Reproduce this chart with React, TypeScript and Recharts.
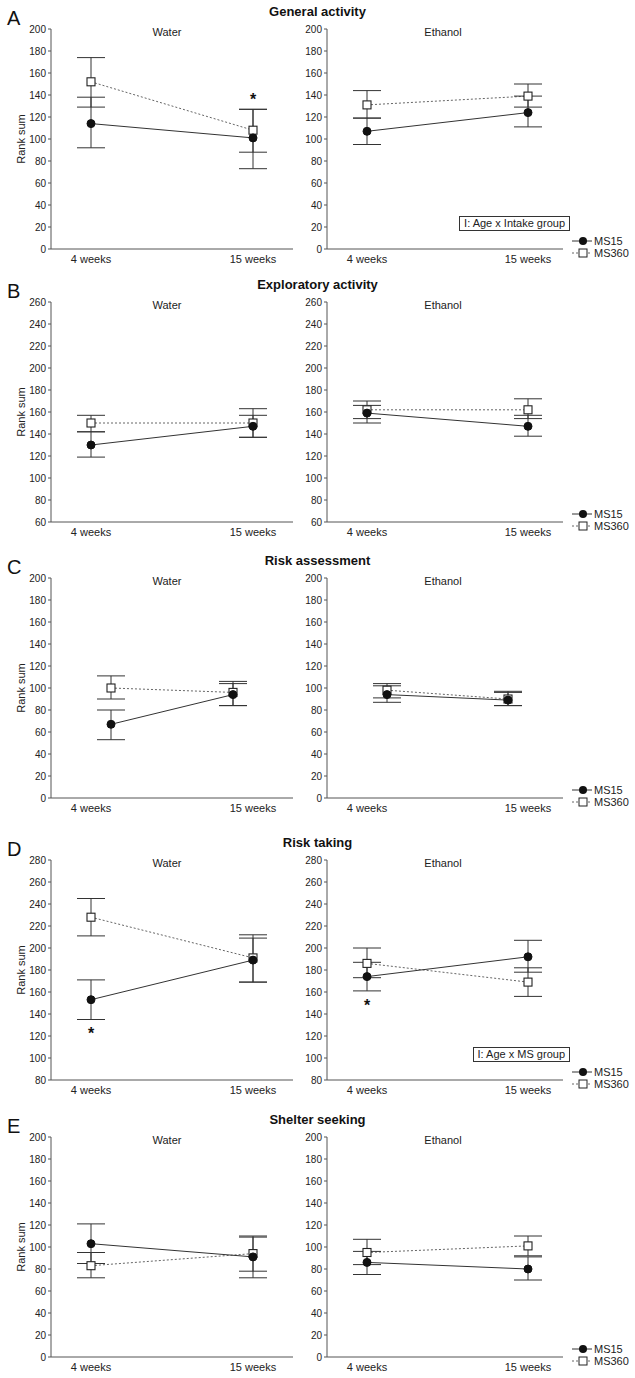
import React from 'react';
import { LineChart, Line, XAxis, YAxis, ErrorBar, Legend, ReferenceDot } from 'recharts';

const AGES = ['4 weeks', '15 weeks'];
const LETTERS = ['A', 'B', 'C', 'D', 'E'];
const TITLES = ['General activity', 'Exploratory activity', 'Risk assessment', 'Risk taking', 'Shelter seeking'];
const PANELS = ['Water', 'Ethanol'];
const Y_MIN = [0, 60, 0, 80, 0];
const Y_MAX = [200, 260, 200, 280, 200];
const Y_STEP = 20;

// rank sums per row, [4 weeks, 15 weeks]; LO / HI are the error bar ends
const MS15_WATER = [[114, 101], [130, 147], [67, 94], [153, 189], [103, 91]];
const MS15_WATER_LO = [[92, 73], [119, 137], [53, 84], [135, 169], [85, 72]];
const MS15_WATER_HI = [[138, 127], [142, 157], [80, 104], [171, 209], [121, 109]];
const MS360_WATER = [[152, 108], [150, 150], [100, 96], [228, 191], [83, 94]];
const MS360_WATER_LO = [[129, 88], [142, 137], [90, 84], [211, 169], [72, 78]];
const MS360_WATER_HI = [[174, 127], [157, 163], [111, 106], [245, 212], [95, 110]];

const MS15_ETHANOL = [[107, 124], [159, 147], [94, 89], [174, 192], [86, 80]];
const MS15_ETHANOL_LO = [[95, 111], [150, 138], [87, 84], [161, 178], [75, 70]];
const MS15_ETHANOL_HI = [[119, 139], [166, 157], [102, 96], [187, 207], [96, 91]];
const MS360_ETHANOL = [[131, 139], [162, 162], [98, 90], [186, 169], [95, 101]];
const MS360_ETHANOL_LO = [[119, 129], [154, 154], [91, 84], [173, 156], [84, 92]];
const MS360_ETHANOL_HI = [[144, 150], [170, 172], [104, 97], [200, 182], [107, 110]];

// significance stars: row, panel (0 water / 1 ethanol), age, rank-sum level
const STARS = [
  { row: 0, panel: 0, age: '15 weeks', y: 139 },
  { row: 3, panel: 0, age: '4 weeks', y: 126 },
  { row: 3, panel: 1, age: '4 weeks', y: 151 },
];
const NOTES = [
  { row: 0, text: 'I: Age x Intake group' },
  { row: 3, text: 'I: Age x MS group' },
];

const SERIES = [
  { key: 'ms15', name: 'MS15', stroke: '#333', dash: undefined as string | undefined, shape: 'circle' },
  { key: 'ms360', name: 'MS360', stroke: '#666', dash: '2 2', shape: 'square' },
];

// layout
const FONT = 'Arial, "Liberation Sans", sans-serif';
const PLOT_TOP = [29, 302, 578, 860, 1137];
const PLOT_H = 220;
const TOP_M = 5;
const X_AX_H = 20;
const POINT_INSET = [0, 0, 20, 0, 0];
const GEOM = [
  { left: 0, width: 300, right: 7, padL: 40, padR: 40, sub: 167 },
  { left: 276, width: 359, right: 72, padL: 40, padR: 35, sub: 443 },
];

const Circle = (p: any) =>
  p.cx == null ? null : <circle key={`c${p.index}`} cx={p.cx} cy={p.cy} r={4} fill="#111" stroke="#111" />;

const Square = (p: any) =>
  p.cx == null ? null : (
    <rect key={`s${p.index}`} x={p.cx - 4} y={p.cy - 4} width={8} height={8} fill="#fff" stroke="#222" strokeWidth={1.1} />
  );

const Star = (p: any) => (
  <text x={p.cx} y={p.cy} dy="0.58em" textAnchor="middle" fontSize={16} fontWeight="bold" fill="#111" fontFamily={FONT}>
    *
  </text>
);

const LegendBox = (props: any) => {
  const keys = (props.payload || []).map((d: any) => d.dataKey);
  return (
    <div style={{ fontFamily: FONT, fontSize: 11, color: '#222' }}>
      {SERIES.filter((s) => keys.includes(s.key)).map((s) => (
        <div key={s.key} style={{ display: 'flex', alignItems: 'center', height: 12 }}>
          <svg width={22} height={12}>
            <line x1={0} y1={6} x2={20} y2={6} stroke={s.stroke} strokeDasharray={s.dash} />
            {s.shape === 'circle' ? (
              <circle cx={11} cy={6} r={4} fill="#111" />
            ) : (
              <rect x={7} y={2} width={8} height={8} fill="#fff" stroke="#222" />
            )}
          </svg>
          <span>{s.name}</span>
        </div>
      ))}
    </div>
  );
};

function Panel({ row, panel }: { row: number; panel: number }) {
  const g = GEOM[panel];
  const m15 = panel === 0 ? MS15_WATER : MS15_ETHANOL;
  const l15 = panel === 0 ? MS15_WATER_LO : MS15_ETHANOL_LO;
  const h15 = panel === 0 ? MS15_WATER_HI : MS15_ETHANOL_HI;
  const m360 = panel === 0 ? MS360_WATER : MS360_ETHANOL;
  const l360 = panel === 0 ? MS360_WATER_LO : MS360_ETHANOL_LO;
  const h360 = panel === 0 ? MS360_WATER_HI : MS360_ETHANOL_HI;

  const data = AGES.map((age, i) => ({
    age,
    ms15: m15[row][i],
    ms15Err: [m15[row][i] - l15[row][i], h15[row][i] - m15[row][i]],
    ms360: m360[row][i],
    ms360Err: [m360[row][i] - l360[row][i], h360[row][i] - m360[row][i]],
  }));

  const ticks: number[] = [];
  for (let v = Y_MIN[row]; v <= Y_MAX[row]; v += Y_STEP) ticks.push(v);
  const inset = POINT_INSET[row];

  return (
    <div style={{ position: 'absolute', left: g.left, top: PLOT_TOP[row] - TOP_M }}>
      <LineChart
        width={g.width}
        height={TOP_M + PLOT_H + X_AX_H}
        data={data}
        margin={{ top: TOP_M, right: g.right, bottom: 0, left: 0 }}
      >
        <XAxis
          xAxisId="lab"
          dataKey="age"
          interval={0}
          height={X_AX_H}
          padding={{ left: g.padL, right: g.padR }}
          tickLine={false}
          tickSize={4}
          tickMargin={2}
          axisLine={{ stroke: '#555' }}
          tick={{ fontSize: 11, fill: '#222', fontFamily: FONT }}
        />
        <XAxis xAxisId="pts" dataKey="age" hide padding={{ left: g.padL + inset, right: g.padR + inset }} />
        <YAxis
          domain={[Y_MIN[row], Y_MAX[row]]}
          ticks={ticks}
          interval={0}
          width={51}
          tickSize={3}
          tickMargin={2}
          allowDataOverflow
          axisLine={{ stroke: '#555' }}
          tickLine={{ stroke: '#555' }}
          tick={{ fontSize: 10, fill: '#222', fontFamily: FONT }}
          label={
            panel === 0
              ? {
                  content: (p: any) => {
                    const vb = p.viewBox || { x: 0, y: TOP_M, height: PLOT_H };
                    const cy = vb.y + vb.height / 2;
                    return (
                      <text
                        x={vb.x + 21}
                        y={cy}
                        transform={`rotate(-90 ${vb.x + 21} ${cy})`}
                        textAnchor="middle"
                        dominantBaseline="central"
                        fontSize={11}
                        fill="#222"
                        fontFamily={FONT}
                      >
                        Rank sum
                      </text>
                    );
                  },
                }
              : undefined
          }
        />
        <Line
          xAxisId="pts"
          dataKey="ms360"
          name="MS360"
          stroke="#666"
          strokeWidth={1}
          strokeDasharray="2 2"
          dot={Square}
          activeDot={false}
          isAnimationActive={false}
        >
          <ErrorBar dataKey="ms360Err" width={14} stroke="#333" strokeWidth={1} direction="y" />
        </Line>
        <Line
          xAxisId="pts"
          dataKey="ms15"
          name="MS15"
          stroke="#333"
          strokeWidth={1}
          dot={Circle}
          activeDot={false}
          isAnimationActive={false}
        >
          <ErrorBar dataKey="ms15Err" width={14} stroke="#333" strokeWidth={1} direction="y" />
        </Line>
        {STARS.filter((s) => s.row === row && s.panel === panel).map((s, i) => (
          <ReferenceDot key={i} xAxisId="pts" x={s.age} y={s.y} r={0} shape={Star} />
        ))}
        {panel === 1 && (
          <Legend
            layout="horizontal"
            align="center"
            verticalAlign="middle"
            wrapperStyle={{ left: 296, top: TOP_M + PLOT_H - 14, width: 63 }}
            content={LegendBox}
          />
        )}
      </LineChart>
      <div
        style={{
          position: 'absolute',
          left: g.sub - g.left - 40,
          width: 80,
          top: TOP_M - 3,
          textAlign: 'center',
          fontSize: 11,
          lineHeight: '12px',
          color: '#222',
          fontFamily: FONT,
        }}
      >
        {PANELS[panel]}
      </div>
    </div>
  );
}

export default function App() {
  return (
    <div
      style={{
        position: 'absolute',
        left: 0,
        top: 0,
        width: 635,
        height: 1378,
        background: '#fff',
        fontFamily: FONT,
        overflow: 'hidden',
      }}
    >
      {TITLES.map((t, row) => (
        <React.Fragment key={t}>
          <div
            style={{
              position: 'absolute',
              left: 7,
              top: PLOT_TOP[row] - 23,
              fontSize: 20,
              lineHeight: '24px',
              color: '#111',
            }}
          >
            {LETTERS[row]}
          </div>
          <div
            style={{
              position: 'absolute',
              left: 0,
              width: 635,
              top: PLOT_TOP[row] - 25,
              textAlign: 'center',
              fontSize: 13,
              lineHeight: '16px',
              fontWeight: 'bold',
              color: '#111',
            }}
          >
            {t}
          </div>
          <Panel row={row} panel={0} />
          <Panel row={row} panel={1} />
        </React.Fragment>
      ))}
      {NOTES.map((n) => (
        <div
          key={n.text}
          style={{
            position: 'absolute',
            right: 65,
            top: PLOT_TOP[n.row] + 187,
            border: '1px solid #333',
            padding: '0 4px',
            fontSize: 11,
            lineHeight: '13px',
            color: '#222',
            background: '#fff',
          }}
        >
          {n.text}
        </div>
      ))}
    </div>
  );
}
